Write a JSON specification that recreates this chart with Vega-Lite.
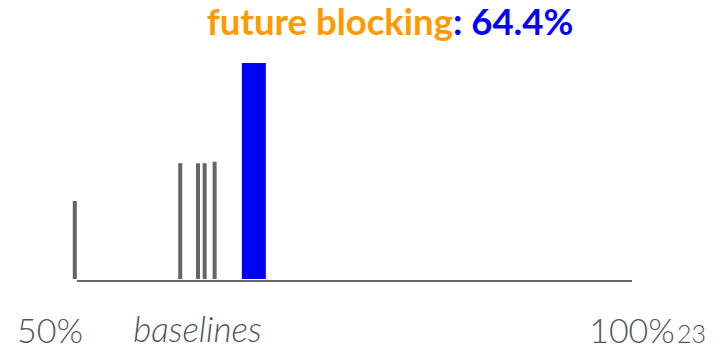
{
  "$schema": "https://vega.github.io/schema/vega-lite/v6.json",
  "width": 720,
  "height": 349,
  "autosize": "none",
  "padding": 0,
  "background": "white",
  "config": {"view": {"stroke": null}},
  "datasets": {
    "baselines": [
      {"acc": 49.8, "h": 0.361},
      {"acc": 59.3, "h": 0.536},
      {"acc": 60.9, "h": 0.536},
      {"acc": 61.5, "h": 0.536},
      {"acc": 62.4, "h": 0.543}
    ],
    "ours": [
      {"name": "future blocking", "acc": 64.4, "h": 1.0}
    ]
  },
  "layer": [
    {
      "data": {"values": [{"from": 50, "to": 100}]},
      "mark": {"type": "rule", "color": "#666666", "strokeWidth": 2, "yOffset": 2},
      "encoding": {
        "x": {"field": "from", "type": "quantitative", "scale": {"domain": [50, 100], "range": [77, 632], "padding": 0, "nice": false, "zero": false}, "axis": null},
        "x2": {"field": "to"},
        "y": {"datum": 0, "type": "quantitative", "scale": {"domain": [0, 1], "range": [279, 63], "padding": 0, "nice": false, "zero": false}, "axis": null}
      }
    },
    {
      "data": {"name": "baselines"},
      "mark": {"type": "rule", "color": "#666666", "strokeWidth": 4},
      "encoding": {
        "x": {"field": "acc", "type": "quantitative"},
        "y": {"field": "h", "type": "quantitative"},
        "y2": {"datum": 0}
      }
    },
    {
      "data": {"name": "ours"},
      "mark": {"type": "bar", "color": "#0000FF", "size": 24, "xOffset": 17, "orient": "vertical"},
      "encoding": {
        "x": {"field": "acc", "type": "quantitative"},
        "y": {"field": "h", "type": "quantitative"},
        "y2": {"datum": 0}
      }
    },
    {
      "data": {"name": "ours"},
      "mark": {"type": "text", "color": "#FF9900", "font": "Lato", "fontWeight": "bold", "fontSize": 36.5, "align": "right", "baseline": "alphabetic"},
      "encoding": {
        "text": {"field": "name"},
        "x": {"datum": 83.87, "type": "quantitative"},
        "y": {"datum": 1.13, "type": "quantitative"}
      }
    },
    {
      "data": {"name": "ours"},
      "mark": {"type": "text", "color": "#0000FF", "font": "Lato", "fontWeight": "bold", "fontSize": 36.5, "align": "left", "baseline": "alphabetic", "text": ": 64.4%"},
      "encoding": {
        "x": {"datum": 83.87, "type": "quantitative"},
        "y": {"datum": 1.13, "type": "quantitative"}
      }
    },
    {
      "data": {"values": [{"label": "50%"}]},
      "mark": {"type": "text", "color": "#555555", "font": "Lato", "fontWeight": 300, "fontSize": 34, "align": "right", "baseline": "alphabetic", "dx": 6},
      "encoding": {
        "text": {"field": "label"},
        "x": {"datum": 50, "type": "quantitative"},
        "y": {"datum": -0.2963, "type": "quantitative"}
      }
    },
    {
      "data": {"values": [{"label": "100%"}]},
      "mark": {"type": "text", "color": "#555555", "font": "Lato", "fontWeight": 300, "fontSize": 34, "align": "center", "baseline": "alphabetic"},
      "encoding": {
        "text": {"field": "label"},
        "x": {"datum": 100, "type": "quantitative"},
        "y": {"datum": -0.2963, "type": "quantitative"}
      }
    },
    {
      "data": {"values": [{"label": "baselines"}]},
      "mark": {"type": "text", "color": "#555555", "font": "Lato", "fontWeight": 300, "fontStyle": "italic", "fontSize": 35, "align": "center", "baseline": "alphabetic"},
      "encoding": {
        "text": {"field": "label"},
        "x": {"datum": 60.85, "type": "quantitative"},
        "y": {"datum": -0.2917, "type": "quantitative"}
      }
    },
    {
      "data": {"values": [{"label": "23"}]},
      "mark": {"type": "text", "color": "#555555", "font": "Lato", "fontWeight": 300, "fontSize": 25, "align": "left", "baseline": "alphabetic", "dx": 45},
      "encoding": {
        "text": {"field": "label"},
        "x": {"datum": 100, "type": "quantitative"},
        "y": {"datum": -0.2963, "type": "quantitative"}
      }
    }
  ]
}
